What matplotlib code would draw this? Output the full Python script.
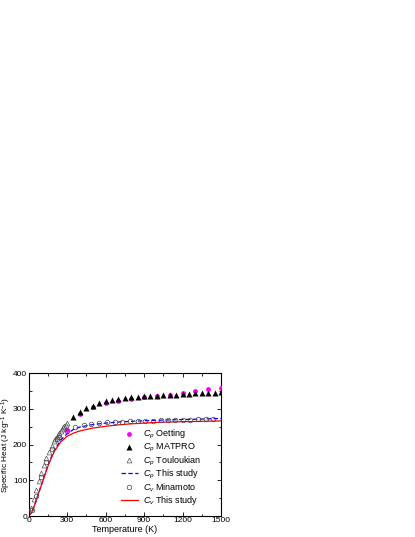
import numpy as np
import matplotlib
matplotlib.use('Agg')
import matplotlib.pyplot as plt
from matplotlib.ticker import MultipleLocator

plt.rcParams['font.family'] = ['Liberation Sans', 'DejaVu Sans']
plt.rcParams['mathtext.fontset'] = 'custom'
plt.rcParams['mathtext.rm'] = 'Liberation Sans'
plt.rcParams['mathtext.it'] = 'Liberation Sans:italic'

# Cp Oetting
t_oet = [300, 400, 500, 600, 700, 800, 900, 1000, 1100, 1200, 1300, 1400, 1500]
cp_oet = [241, 286, 304, 316, 322, 327, 332, 336, 340, 345, 350, 356, 357]

# Cp MATPRO
t_mat = [350, 400, 450, 500, 550, 600, 650, 700, 750, 800, 850, 900, 950, 1000,
         1050, 1100, 1150, 1200, 1250, 1300, 1350, 1400, 1450, 1500]
cp_mat = [276, 290, 302, 309, 316, 321, 325, 328, 330, 332, 334, 335, 336, 337,
          338, 339, 340, 341, 342, 343, 343, 344, 345, 346]

# Cp Touloukian
t_tou = [20, 40, 60, 80, 100, 120, 140, 160, 180, 200, 210, 220, 230, 240,
         250, 260, 270, 280, 290, 300]
cp_tou = [22, 48, 74, 98, 120, 143, 163, 180, 196, 209, 216, 222, 228, 233,
          238, 243, 248, 252, 256, 260]

# Cv Minamoto
t_min = [30, 60, 100, 140, 180, 220, 240, 300, 360, 430, 490, 550, 610, 670, 730,
         790, 850, 910, 970, 1030, 1090, 1140, 1200, 1260, 1320, 1380, 1440]
cv_min = [18, 55, 108, 150, 188, 216, 222, 237, 248, 254, 258, 260, 262, 263, 264,
          265, 266, 267, 267, 268, 269, 269, 270, 270, 271, 271, 272]

# Cp this study
t_cp = [0, 25, 50, 75, 100, 125, 150, 175, 200, 250, 300, 350, 400, 500, 600,
        700, 800, 1000, 1200, 1500]
cp_fit = [0, 10, 33, 60, 87, 114, 140, 163, 183, 212, 230, 242, 249, 256, 260,
          263, 265, 268, 270, 273]

# Cv this study
t_cv = [0, 25, 50, 75, 100, 125, 150, 175, 200, 250, 300, 350, 400, 500, 600,
        700, 800, 1000, 1200, 1500]
cv_fit = [0, 10, 33, 60, 86, 112, 138, 160, 180, 207, 223, 232, 238, 246, 251,
          255, 258, 262, 264, 266]

fig = plt.figure(figsize=(4.15, 5.37), dpi=100)
ax = fig.add_axes([0.0687, 0.039, 0.4639, 0.2663])

ax.plot(t_oet, cp_oet, 'o', color='#ff00ff', ms=3.5, mec='none',
        label=r'$C_{\mathit{p}}$ Oetting', zorder=3)
ax.plot(t_mat, cp_mat, '^', color='black', ms=3.8, mec='none',
        label=r'$C_{\mathit{p}}$ MATPRO', zorder=3)
ax.plot(t_tou, cp_tou, '^', mfc='none', mec='#555555', mew=0.5, ms=3.5,
        label=r'$C_{\mathit{p}}$ Touloukian', zorder=3)
ax.plot(t_cp, cp_fit, '--', color='blue', lw=0.9, dashes=(3.5, 2),
        label=r'$C_{\mathit{p}}$ This study', zorder=2)
ax.plot(t_min, cv_min, 'o', mfc='none', mec='#444444', mew=0.5, ms=3.3,
        label=r'$C_{\mathit{v}}$ Minamoto', zorder=3)
ax.plot(t_cv, cv_fit, '-', color='red', lw=0.9,
        label=r'$C_{\mathit{v}}$ This study', zorder=2)

ax.set_xlim(0, 1500)
ax.set_ylim(0, 400)
ax.xaxis.set_major_locator(MultipleLocator(300))
ax.xaxis.set_minor_locator(MultipleLocator(150))
ax.yaxis.set_major_locator(MultipleLocator(100))
ax.yaxis.set_minor_locator(MultipleLocator(50))
ax.tick_params(which='both', direction='in', top=True, right=True,
               labelsize=6, width=0.6, pad=1.0)
ax.tick_params(which='major', length=3)
ax.tick_params(which='minor', length=1.8)
for s in ax.spines.values():
    s.set_linewidth(0.8)

ax.set_xlabel('Temperature (K)', fontsize=6.5, labelpad=0.5)
ax.set_ylabel(r'Specific Heat (J kg$^{-1}$ K$^{-1}$)', fontsize=6, labelpad=0)
ax.yaxis.set_label_coords(-0.078, 0.5)

ax.legend(loc='upper left', bbox_to_anchor=(0.48, 0.615), frameon=False,
          fontsize=6.5, handlelength=1.9, handletextpad=0.5, labelspacing=0.02,
          borderaxespad=0, borderpad=0)

fig.savefig('out.png', dpi=100)
